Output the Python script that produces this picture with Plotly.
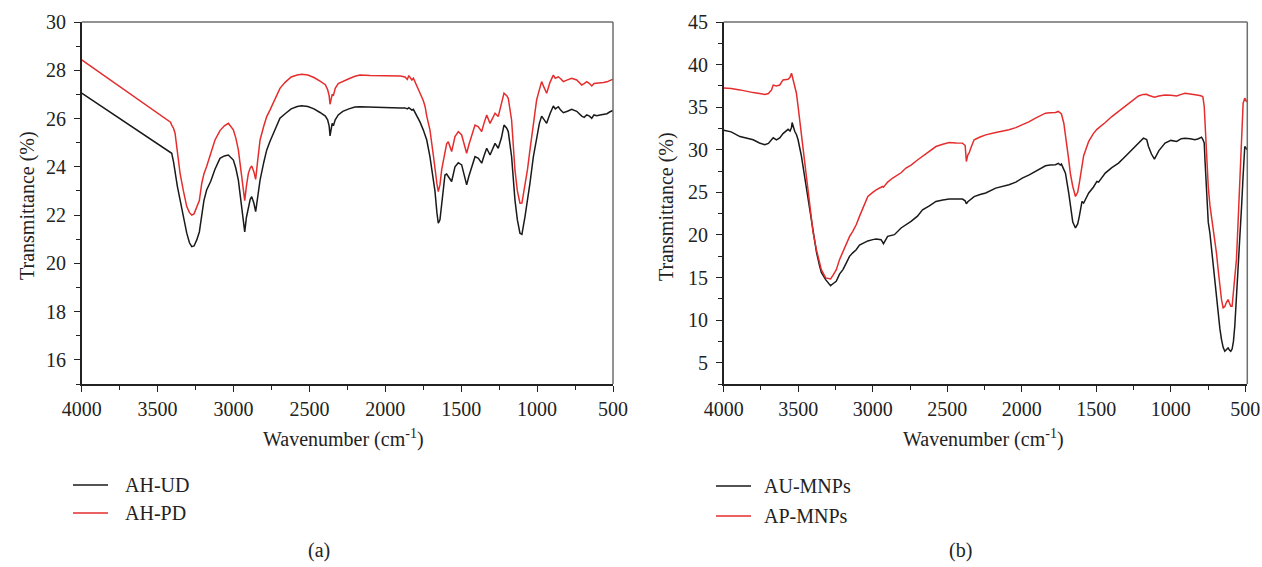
import plotly.graph_objects as go

# ---------------- data: panel (a) ----------------
WN_A = [4000, 3429, 3415, 3407, 3395, 3385, 3370, 3352, 3330, 3308, 3290, 3275, 3260, 3242, 3225,
        3209, 3195, 3177, 3150, 3122, 3089, 3060, 3034, 3001, 2985, 2968, 2950, 2935, 2926, 2915,
        2902, 2890, 2880, 2866, 2854, 2840, 2825, 2800, 2781, 2760, 2738, 2716, 2694, 2660, 2620,
        2580, 2551, 2510, 2470, 2430, 2395, 2380, 2370, 2364, 2357, 2350, 2342, 2330, 2310, 2280,
        2240, 2200, 2167, 2100, 2000, 1900, 1870, 1855, 1845, 1837, 1825, 1815, 1800, 1793, 1771,
        1750, 1738, 1727, 1706, 1684, 1673, 1660, 1651, 1640, 1628, 1618, 1607, 1596, 1585, 1563,
        1541, 1519, 1497, 1480, 1464, 1450, 1431, 1409, 1387, 1365, 1350, 1332, 1310, 1295, 1277,
        1256, 1235, 1218, 1200, 1190, 1168, 1146, 1130, 1113, 1100, 1080, 1063, 1047, 1025, 1003,
        985, 970, 955, 937, 915, 893, 880, 860, 845, 827, 800, 772, 739, 706, 690,
        673, 655, 640, 625, 607, 585, 563, 540, 520, 500]

AH_UD = [27.05, 24.65, 24.60, 24.56, 24.20, 23.73, 23.20, 22.63, 21.90, 21.25, 20.85, 20.69, 20.72, 20.97, 21.30,
         21.93, 22.60, 23.04, 23.40, 23.90, 24.35, 24.45, 24.49, 24.28, 23.95, 23.45, 22.60, 21.70, 21.30, 21.90,
         22.35, 22.65, 22.76, 22.50, 22.14, 22.80, 23.45, 24.20, 24.70, 25.05, 25.39, 25.70, 26.01, 26.20, 26.40,
         26.50, 26.53, 26.50, 26.40, 26.25, 26.10, 25.95, 25.70, 25.28, 25.65, 25.80, 25.70, 25.95, 26.15, 26.30,
         26.40, 26.48, 26.49, 26.47, 26.45, 26.44, 26.44, 26.40, 26.45, 26.42, 26.35, 26.38, 26.20, 26.15, 25.85,
         25.53, 25.30, 25.11, 24.42, 23.59, 23.00, 22.10, 21.66, 21.80, 22.50, 22.90, 23.66, 23.70, 23.59, 23.39,
         24.00, 24.17, 24.08, 23.70, 23.25, 23.60, 24.00, 24.42, 24.35, 24.15, 24.45, 24.77, 24.49, 24.70, 24.97,
         24.77, 25.20, 25.73, 25.60, 25.46, 24.42, 22.63, 21.80, 21.25, 21.20, 21.93, 22.60, 23.32, 24.40, 25.25,
         25.80, 26.10, 25.95, 25.80, 26.20, 26.52, 26.40, 26.49, 26.35, 26.24, 26.30, 26.38, 26.30, 26.10, 26.05,
         26.15, 26.10, 26.01, 26.15, 26.12, 26.15, 26.18, 26.20, 26.28, 26.33]

AH_PD = [28.43, 25.94, 25.85, 25.73, 25.60, 25.39, 24.60, 23.73, 23.00, 22.35, 22.10, 22.00, 22.05, 22.35, 22.60,
         23.32, 23.70, 24.01, 24.60, 25.11, 25.50, 25.70, 25.80, 25.53, 25.20, 24.70, 23.80, 22.90, 22.60, 23.20,
         23.73, 23.95, 24.03, 23.80, 23.48, 24.30, 25.11, 25.70, 26.08, 26.35, 26.63, 26.95, 27.25, 27.50, 27.72,
         27.80, 27.83, 27.80, 27.70, 27.55, 27.40, 27.20, 26.95, 26.59, 26.90, 27.00, 26.95, 27.25, 27.45, 27.55,
         27.65, 27.75, 27.80, 27.78, 27.77, 27.76, 27.72, 27.62, 27.78, 27.70, 27.60, 27.67, 27.45, 27.30, 27.05,
         26.75, 26.50, 26.10, 25.53, 24.50, 23.87, 23.30, 22.97, 23.25, 23.90, 24.28, 24.70, 24.95, 25.04, 24.63,
         25.25, 25.46, 25.32, 24.90, 24.56, 24.90, 25.32, 25.73, 25.66, 25.46, 25.80, 26.15, 25.80, 26.00, 26.22,
         26.08, 26.60, 27.05, 26.95, 26.84, 25.94, 23.87, 23.00, 22.49, 22.50, 23.18, 23.90, 24.70, 25.80, 26.77,
         27.20, 27.53, 27.30, 27.05, 27.50, 27.80, 27.67, 27.73, 27.65, 27.53, 27.60, 27.67, 27.60, 27.39, 27.45,
         27.53, 27.45, 27.35, 27.45, 27.46, 27.45, 27.49, 27.52, 27.58, 27.63]

# ---------------- data: panel (b) ----------------
WN_B = [4000, 3950, 3891, 3850, 3802, 3760, 3724, 3700, 3679, 3668, 3646, 3624, 3602, 3568, 3555,
        3545, 3541, 3530, 3523, 3512, 3501, 3479, 3468, 3445, 3434, 3412, 3401, 3378, 3356, 3345,
        3316, 3300, 3283, 3265, 3245, 3223, 3200, 3178, 3156, 3134, 3111, 3089, 3060, 3044, 3033,
        3000, 2977, 2944, 2933, 2928, 2900, 2866, 2855, 2810, 2777, 2743, 2700, 2666, 2620, 2576,
        2530, 2487, 2440, 2398, 2380, 2372, 2362, 2354, 2342, 2320, 2280, 2242, 2175, 2086, 2040,
        1997, 1950, 1908, 1870, 1841, 1810, 1774, 1755, 1741, 1734, 1718, 1707, 1685, 1674, 1658,
        1640, 1625, 1614, 1596, 1585, 1551, 1520, 1496, 1485, 1440, 1396, 1351, 1306, 1262, 1217,
        1184, 1162, 1150, 1130, 1110, 1080, 1039, 1000, 961, 930, 905, 870, 838, 815, 794,
        785, 776, 771, 760, 749, 738, 720, 705, 694, 680, 671, 660, 649, 638, 627,
        616, 607, 598, 589, 580, 571, 560, 550, 537, 525, 515, 504, 495, 490]

AU_MNPS = [32.30, 32.10, 31.55, 31.35, 31.17, 30.80, 30.58, 30.75, 31.17, 31.40, 31.15, 31.40, 31.90, 32.40, 32.20,
           32.60, 33.19, 32.40, 32.14, 31.80, 31.17, 29.30, 28.04, 25.50, 24.13, 21.50, 20.23, 18.00, 16.31, 15.60,
           14.75, 14.40, 14.05, 14.30, 14.56, 15.40, 15.93, 16.70, 17.49, 17.90, 18.27, 18.80, 19.05, 19.24, 19.30,
           19.45, 19.52, 19.44, 19.20, 18.97, 19.83, 19.95, 20.03, 20.82, 21.20, 21.59, 22.20, 22.96, 23.40, 23.93,
           24.10, 24.21, 24.22, 24.21, 24.00, 23.66, 23.90, 24.00, 24.21, 24.50, 24.75, 24.92, 25.50, 25.89, 26.20,
           26.68, 27.05, 27.45, 27.80, 28.12, 28.20, 28.24, 28.40, 28.20, 28.32, 27.80, 27.26, 24.90, 23.35, 21.50,
           20.82, 21.30, 22.18, 23.93, 23.74, 24.92, 25.60, 26.28, 26.20, 27.26, 27.90, 28.43, 29.20, 29.99, 30.80,
           31.36, 31.20, 30.38, 29.50, 28.90, 29.90, 30.78, 31.10, 30.97, 31.30, 31.36, 31.30, 31.17, 31.30, 31.48,
           31.20, 30.80, 28.82, 24.50, 21.50, 20.23, 17.20, 14.20, 13.19, 10.50, 9.00, 7.72, 6.80, 6.35, 6.50,
           6.74, 6.50, 6.35, 6.60, 7.50, 9.28, 12.50, 15.50, 19.06, 23.50, 27.00, 30.38, 30.20, 30.00]

AP_MNPS = [37.25, 37.20, 37.03, 36.85, 36.71, 36.60, 36.50, 36.60, 37.03, 37.60, 37.50, 37.60, 38.20, 38.28, 38.50,
           38.98, 38.70, 38.00, 37.60, 36.64, 35.10, 31.95, 30.20, 26.48, 24.90, 21.79, 20.40, 18.27, 16.60, 15.93,
           14.95, 14.85, 14.83, 15.30, 15.90, 17.10, 18.00, 19.05, 19.80, 20.42, 21.20, 22.18, 23.50, 24.20, 24.52,
           25.00, 25.30, 25.60, 25.69, 25.60, 26.20, 26.68, 26.80, 27.30, 27.85, 28.20, 28.80, 29.21, 29.80, 30.38,
           30.65, 30.85, 30.80, 30.78, 30.50, 28.62, 29.40, 29.60, 30.20, 31.17, 31.50, 31.75, 32.03, 32.34, 32.60,
           32.93, 33.30, 33.71, 34.00, 34.30, 34.35, 34.37, 34.50, 34.30, 34.20, 33.12, 31.80, 28.82, 27.20, 25.69,
           24.52, 25.00, 26.08, 28.50, 29.30, 31.00, 31.90, 32.40, 32.54, 33.20, 33.90, 34.50, 35.07, 35.70, 36.32,
           36.50, 36.52, 36.40, 36.30, 36.17, 36.30, 36.44, 36.40, 36.32, 36.50, 36.64, 36.55, 36.50, 36.40, 36.32,
           36.20, 35.07, 33.00, 29.00, 25.69, 23.50, 21.30, 19.44, 17.90, 15.50, 13.97, 12.40, 11.44, 11.60, 12.10,
           12.41, 12.00, 11.62, 11.62, 13.50, 15.30, 17.10, 21.00, 26.86, 31.50, 35.47, 36.06, 35.70, 35.60]

NAMES_A = ["AH-UD", "AH-PD"]
NAMES_B = ["AU-MNPs", "AP-MNPs"]
X_TICKS = [4000, 3500, 3000, 2500, 2000, 1500, 1000, 500]
PANEL_LABELS = ["(a)", "(b)"]

BLACK = "#1a1a1a"
RED = "#e52d2d"
FONT = "Liberation Serif"
W, H = 1262, 567


def px(x):
    return x / W


def py(y):
    return 1 - y / H


fig = go.Figure()
fig.add_trace(go.Scatter(x=WN_A, y=AH_UD, mode="lines", line=dict(color=BLACK, width=1.5),
                         xaxis="x", yaxis="y", name=NAMES_A[0], showlegend=False))
fig.add_trace(go.Scatter(x=WN_A, y=AH_PD, mode="lines", line=dict(color=RED, width=1.5),
                         xaxis="x", yaxis="y", name=NAMES_A[1], showlegend=False))
fig.add_trace(go.Scatter(x=WN_B, y=AU_MNPS, mode="lines", line=dict(color=BLACK, width=1.5),
                         xaxis="x2", yaxis="y2", name=NAMES_B[0], showlegend=False))
fig.add_trace(go.Scatter(x=WN_B, y=AP_MNPS, mode="lines", line=dict(color=RED, width=1.5),
                         xaxis="x2", yaxis="y2", name=NAMES_B[1], showlegend=False))

tickfont = dict(family=FONT, size=20, color="#222")
common = dict(showgrid=False, zeroline=False, showline=True, linecolor="#222", linewidth=1.5,
              ticks="outside", ticklen=6, tickwidth=1.2, tickcolor="#222", tickfont=tickfont,
              automargin=False)

y_dom = [py(384), py(22)]
fig.update_layout(
    width=W, height=H,
    margin=dict(l=0, r=0, t=0, b=0, autoexpand=False),
    paper_bgcolor="white", plot_bgcolor="white",
    showlegend=False,
    xaxis=dict(domain=[px(81.7), px(613)], range=[4000, 500], tickvals=X_TICKS, anchor="y",
               minor=dict(dtick=250, tick0=500, ticks="outside", ticklen=4, tickcolor="#222"), **common),
    yaxis=dict(domain=y_dom, range=[15, 30], tick0=16, dtick=2, anchor="x", ticklabelstandoff=4,
               minor=dict(dtick=1, tick0=15, ticks="outside", ticklen=4, tickcolor="#222"), **common),
    xaxis2=dict(domain=[px(723.7), px(1247.3)], range=[4000, 487], tickvals=X_TICKS, anchor="y2",
                minor=dict(dtick=250, tick0=500, ticks="outside", ticklen=4, tickcolor="#222"), **common),
    yaxis2=dict(domain=y_dom, range=[2.5, 45], tick0=5, dtick=5, anchor="x2", ticklabelstandoff=4,
                minor=dict(dtick=2.5, tick0=2.5, ticks="outside", ticklen=4, tickcolor="#222"), **common),
)

# top and right frame lines (gray)
for xr, yr in (("x domain", "y domain"), ("x2 domain", "y2 domain")):
    fig.add_shape(type="line", xref=xr, yref=yr, x0=0, x1=1, y0=1, y1=1,
                  line=dict(color="#6e6e6e", width=1.5))
    fig.add_shape(type="line", xref=xr, yref=yr, x0=1, x1=1, y0=0, y1=1,
                  line=dict(color="#6e6e6e", width=1.5))

title_font = dict(family=FONT, size=20, color="#222")
annos = [
    dict(text="Transmittance (%)", x=px(27), y=py(206), textangle=-90),
    dict(text="Transmittance (%)", x=px(666), y=py(207), textangle=-90),
    dict(text="Wavenumber (cm<sup>-1</sup>)", x=px(343), y=py(438)),
    dict(text="Wavenumber (cm<sup>-1</sup>)", x=px(983), y=py(438)),
    dict(text=PANEL_LABELS[0], x=px(319), y=py(550)),
    dict(text=PANEL_LABELS[1], x=px(960), y=py(550)),
]
for a in annos:
    fig.add_annotation(xref="paper", yref="paper", showarrow=False, font=title_font,
                       xanchor="center", yanchor="middle", **a)

# custom legends
legend_specs = [
    (NAMES_A, 73, 108, 123, [485, 513]),
    (NAMES_B, 716, 751, 762, [486, 516]),
]
for names, lx0, lx1, tx, ys in legend_specs:
    for name, color, yy in zip(names, [BLACK, RED], ys):
        fig.add_shape(type="line", xref="paper", yref="paper", x0=px(lx0), x1=px(lx1),
                      y0=py(yy), y1=py(yy), line=dict(color=color, width=1.5))
        fig.add_annotation(xref="paper", yref="paper", showarrow=False, text=name,
                           x=px(tx), y=py(yy), xanchor="left", yanchor="middle", font=title_font)

# remove the default 8px page margin so the figure sits at the window origin
fig.write_html("out.html", config={"displayModeBar": False},
               post_script="document.body.style.margin='0px';")
